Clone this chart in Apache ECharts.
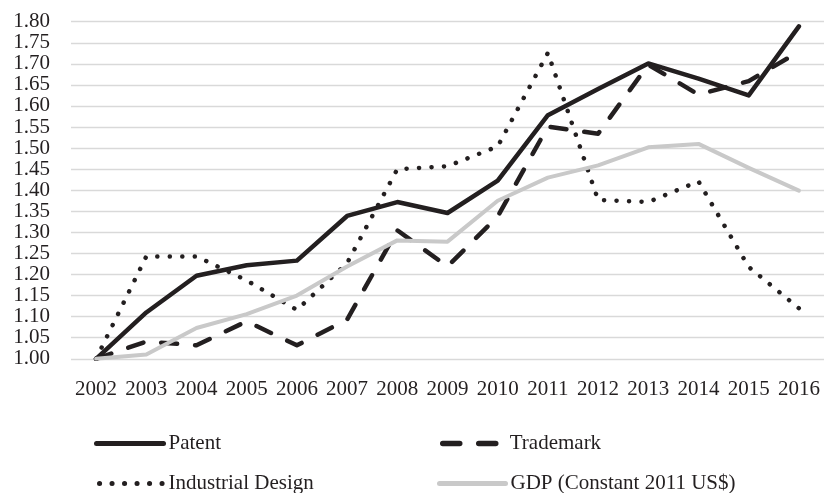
<!DOCTYPE html>
<html>
<head>
<meta charset="utf-8">
<script src="https://cdn.jsdelivr.net/npm/echarts@6/dist/echarts.min.js"></script>
<style>
  html, body { margin: 0; padding: 0; background: #fff; }
  #chart { width: 824px; height: 493px; }
</style>
</head>
<body>
<div id="chart"></div>
<script>
const years = ['2002', '2003', '2004', '2005', '2006', '2007', '2008', '2009', '2010', '2011', '2012', '2013', '2014', '2015', '2016'];
const patent = [1.00, 1.11, 1.197, 1.222, 1.233, 1.339, 1.372, 1.346, 1.423, 1.578, 1.640, 1.701, 1.665, 1.625, 1.789];
const trademark = [1.00, 1.041, 1.032, 1.089, 1.032, 1.093, 1.305, 1.219, 1.338, 1.551, 1.534, 1.698, 1.627, 1.659, 1.729];
const industrialDesign = [1.00, 1.243, 1.243, 1.186, 1.116, 1.227, 1.450, 1.457, 1.504, 1.726, 1.377, 1.372, 1.421, 1.218, 1.12];
const gdp = [1.00, 1.010, 1.073, 1.106, 1.150, 1.219, 1.281, 1.278, 1.375, 1.430, 1.459, 1.502, 1.510, 1.453, 1.399];

const font = 'Liberation Serif';
const dark = '#231f20';
const grey = '#c9c9c9';

const chart = echarts.init(document.getElementById('chart'));

// one legend per item so each can sit where the original puts it
function legendBox(name, left, top, width, line) {
  return {
    data: [name],
    left: left,
    top: top,
    itemWidth: width,
    itemHeight: 14,
    selectedMode: false,
    itemStyle: { opacity: 0 },
    lineStyle: line,
    textStyle: { fontFamily: font, fontSize: 21, color: dark }
  };
}

const option = {
  animation: false,
  grid: { left: 71, right: -4.5, top: 21.7, bottom: 134.2 },
  legend: [
    legendBox('Patent', 89, 428, 67, { color: dark, width: 5, type: 'solid', cap: 'round' }),
    legendBox('Trademark', 435, 428, 62, { color: dark, width: 5.5, type: [17, 19], cap: 'round' }),
    legendBox('Industrial Design', 92, 468, 64, { color: dark, width: 5, type: [0.1, 12.4], cap: 'round' }),
    legendBox('GDP (Constant 2011 US$)', 432, 468, 66, { color: grey, width: 5, type: 'solid', cap: 'round' })
  ],
  xAxis: {
    type: 'category',
    data: years,
    boundaryGap: true,
    axisLine: { show: false },
    axisTick: { show: false },
    axisLabel: { fontFamily: font, fontSize: 21, color: dark, margin: 20, interval: 0 }
  },
  yAxis: {
    type: 'value',
    min: 1,
    max: 1.8,
    interval: 0.05,
    axisLine: { show: false },
    axisTick: { show: false },
    axisLabel: {
      fontFamily: font, fontSize: 21, color: dark, margin: 21,
      formatter: v => v.toFixed(2)
    },
    splitLine: { lineStyle: { color: '#d9d9d9', width: 1.3 } }
  },
  series: [
    {
      name: 'Patent', type: 'line', data: patent, symbol: 'none',
      itemStyle: { color: dark },
      lineStyle: { color: dark, width: 4.5, cap: 'round', join: 'round' }
    },
    {
      name: 'Trademark', type: 'line', data: trademark, symbol: 'none',
      itemStyle: { color: dark },
      lineStyle: { color: dark, width: 4.5, type: [16, 18], cap: 'round', join: 'round' }
    },
    {
      name: 'Industrial Design', type: 'line', data: industrialDesign, symbol: 'none',
      itemStyle: { color: dark },
      lineStyle: { color: dark, width: 4.5, type: [0.1, 12.4], cap: 'round', join: 'round' }
    },
    {
      name: 'GDP (Constant 2011 US$)', type: 'line', data: gdp, symbol: 'none',
      itemStyle: { color: grey },
      lineStyle: { color: grey, width: 4, cap: 'round', join: 'round' }
    }
  ]
};

chart.setOption(option);
</script>
</body>
</html>
